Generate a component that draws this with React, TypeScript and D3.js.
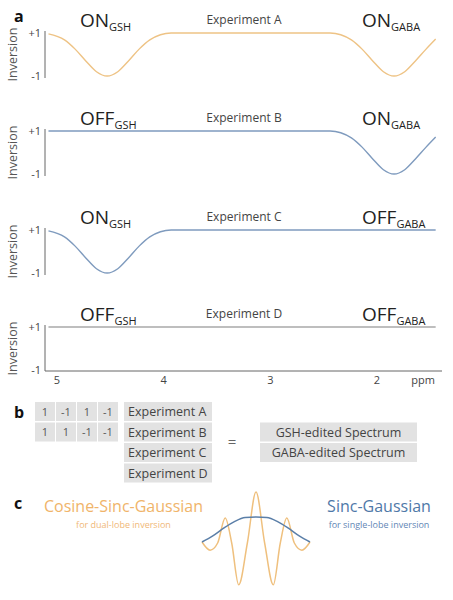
import React from "react";
import * as d3 from "d3";

// ---------- data ----------
const ppmTicks = [5, 4, 3, 2];
const experimentNames = ["Experiment A", "Experiment B", "Experiment C", "Experiment D"];
const leftLabels = ["ON", "OFF", "ON", "OFF"];
const rightLabels = ["ON", "ON", "OFF", "OFF"];

const ppmGrid = [5.08, 4.93, 4.83, 4.73, 4.63, 4.53, 4.43, 4.33, 4.23, 4.13, 4.03, 3.93, 3.8, 3.4, 3.0, 2.6, 2.54, 2.44, 2.34, 2.24, 2.14, 2.04, 1.94, 1.84, 1.74, 1.64, 1.54, 1.45];
const inversionA = [0.96, 0.68, 0.25, -0.3, -0.8, -1, -0.8, -0.3, 0.25, 0.68, 0.92, 1, 1, 1, 1, 1, 1, 1, 0.92, 0.68, 0.25, -0.3, -0.8, -1, -0.8, -0.3, 0.25, 0.72];
const inversionB = [1, 1, 1, 1, 1, 1, 1, 1, 1, 1, 1, 1, 1, 1, 1, 1, 1, 1, 0.92, 0.68, 0.25, -0.3, -0.8, -1, -0.8, -0.3, 0.25, 0.72];
const inversionC = [0.96, 0.68, 0.25, -0.3, -0.8, -1, -0.8, -0.3, 0.25, 0.68, 0.92, 1, 1, 1, 1, 1, 1, 1, 1, 1, 1, 1, 1, 1, 1, 1, 1, 1];
const inversionD = [1, 1, 1, 1, 1, 1, 1, 1, 1, 1, 1, 1, 1, 1, 1, 1, 1, 1, 1, 1, 1, 1, 1, 1, 1, 1, 1, 1];
const seriesList = [inversionA, inversionB, inversionC, inversionD];

const hadamardRows = [
  [1, -1, 1, -1],
  [1, 1, -1, -1],
];
const spectraNames = ["GSH-edited Spectrum", "GABA-edited Spectrum"];

const pulseT = [-1, -0.85, -0.71, -0.57, -0.45, -0.32, -0.16, 0, 0.16, 0.32, 0.45, 0.57, 0.71, 0.85, 1];
const cosSincGauss = [0.02, -0.14, 0, 0.49, 0, -0.82, 0, 1, 0, -0.82, 0, 0.49, 0, -0.14, 0.02];
const sincT = [-1, -0.8, -0.6, -0.4, -0.2, 0, 0.2, 0.4, 0.6, 0.8, 1];
const sincGauss = [0.02, 0.14, 0.29, 0.42, 0.5, 0.51, 0.5, 0.42, 0.29, 0.14, 0.02];

// ---------- styles ----------
const FONT = "'Open Sans', 'DejaVu Sans', sans-serif";
const lineColors = ["#EEC385", "#7F9BBE", "#7F9BBE", "#A8A8A8"];
const ORANGE = "#F0B46A";
const BLUE = "#4F78A8";
const panelTop = [33, 131, 230, 327];
const panelH = 43;

export default function App() {
  const x = d3.scaleLinear().domain([5, 2]).range([57, 377]);

  const panels = seriesList.map((vals, i) => {
    const y = d3.scaleLinear().domain([1, -1]).range([panelTop[i], panelTop[i] + panelH]);
    const line = d3
      .line<number>()
      .x((_, k) => x(ppmGrid[k]))
      .y((v) => y(v))
      .curve(d3.curveMonotoneX);
    return { y, path: line(vals) || "" };
  });

  const px = d3.scaleLinear().domain([-1, 1]).range([202, 310]);
  const py = d3.scaleLinear().domain([0, 1]).range([543, 492]);
  const orangePath =
    d3
      .line<number>()
      .x((_, k) => px(pulseT[k]))
      .y((v) => py(v))
      .curve(d3.curveMonotoneX)(cosSincGauss) || "";
  const bluePath =
    d3
      .line<number>()
      .x((_, k) => px(sincT[k]))
      .y((v) => py(v))
      .curve(d3.curveMonotoneX)(sincGauss) || "";

  const axisBottom = panelTop[3] + panelH + 1;

  return (
    <svg
      width={453}
      height={600}
      style={{ position: "absolute", left: 0, top: 0, background: "#fff" }}
      fontFamily={FONT}
    >
      {/* panel a */}
      <text x={14} y={22} fontSize={16} fontWeight="bold" fill="#111">a</text>
      {panels.map((p, i) => {
        const top = panelTop[i];
        const bot = top + panelH;
        return (
          <g key={i}>
            <text x={80} y={top - 6} fontSize={19} fill="#222">
              {leftLabels[i]}
              <tspan fontSize={11} dy={4}>GSH</tspan>
            </text>
            <text x={362} y={top - 6} fontSize={19} fill="#222">
              {rightLabels[i]}
              <tspan fontSize={11} dy={4}>GABA</tspan>
            </text>
            <text x={244} y={top - 9} fontSize={12} fill="#444" textAnchor="middle">
              {experimentNames[i]}
            </text>
            <text
              transform={`translate(17,${(top + bot) / 2}) rotate(-90)`}
              fontSize={12.5}
              fill="#555"
              textAnchor="middle"
            >
              Inversion
            </text>
            <text x={41} y={top + 4} fontSize={11} fill="#444" textAnchor="end">+1</text>
            <text x={41} y={bot + 4} fontSize={11} fill="#444" textAnchor="end">-1</text>
            <line x1={45} x2={45} y1={top - 2} y2={i === 3 ? axisBottom : bot + 2} stroke="#666" strokeWidth={1} />
            <path d={p.path} fill="none" stroke={lineColors[i]} strokeWidth={1.4} />
          </g>
        );
      })}
      <line x1={45} x2={442} y1={axisBottom} y2={axisBottom} stroke="#666" strokeWidth={1} />
      {ppmTicks.map((t) => (
        <text key={t} x={x(t)} y={384} fontSize={11} fill="#444" textAnchor="middle">
          {t}
        </text>
      ))}
      <text x={423} y={384} fontSize={11} fill="#444" textAnchor="middle">ppm</text>

      {/* panel b */}
      <text x={14} y={418} fontSize={16} fontWeight="bold" fill="#111">b</text>
      {hadamardRows.map((row, r) =>
        row.map((v, c) => (
          <g key={`${r}-${c}`}>
            <rect x={35 + c * 21} y={402 + r * 20.5} width={20} height={19} fill="#E2E2E2" />
            <text x={45 + c * 21} y={415.5 + r * 20.5} fontSize={11} fill="#555" textAnchor="middle">
              {v}
            </text>
          </g>
        ))
      )}
      {experimentNames.map((n, i) => (
        <g key={n}>
          <rect x={124} y={402 + i * 20.5} width={88} height={19} fill="#E2E2E2" />
          <text x={128} y={416 + i * 20.5} fontSize={12.5} fill="#444">{n}</text>
        </g>
      ))}
      <text x={232} y={447} fontSize={15} fill="#666" textAnchor="middle">=</text>
      {spectraNames.map((n, i) => (
        <g key={n}>
          <rect x={260} y={422.5 + i * 20.5} width={157} height={19} fill="#E2E2E2" />
          <text x={338.5} y={436.5 + i * 20.5} fontSize={12.5} fill="#444" textAnchor="middle">{n}</text>
        </g>
      ))}

      {/* panel c */}
      <text x={14} y={509} fontSize={16} fontWeight="bold" fill="#111">c</text>
      <text x={123.5} y={512} fontSize={16} fill={ORANGE} textAnchor="middle">Cosine-Sinc-Gaussian</text>
      <text x={123.5} y={528} fontSize={9} fill="#F0B878" textAnchor="middle">for dual-lobe inversion</text>
      <text x={379} y={512} fontSize={16} fill={BLUE} textAnchor="middle">Sinc-Gaussian</text>
      <text x={379} y={528} fontSize={9} fill="#5F86B5" textAnchor="middle">for single-lobe inversion</text>
      <path d={orangePath} fill="none" stroke="#EFC07E" strokeWidth={1.5} />
      <path d={bluePath} fill="none" stroke="#5B7FA8" strokeWidth={1.5} />
    </svg>
  );
}
